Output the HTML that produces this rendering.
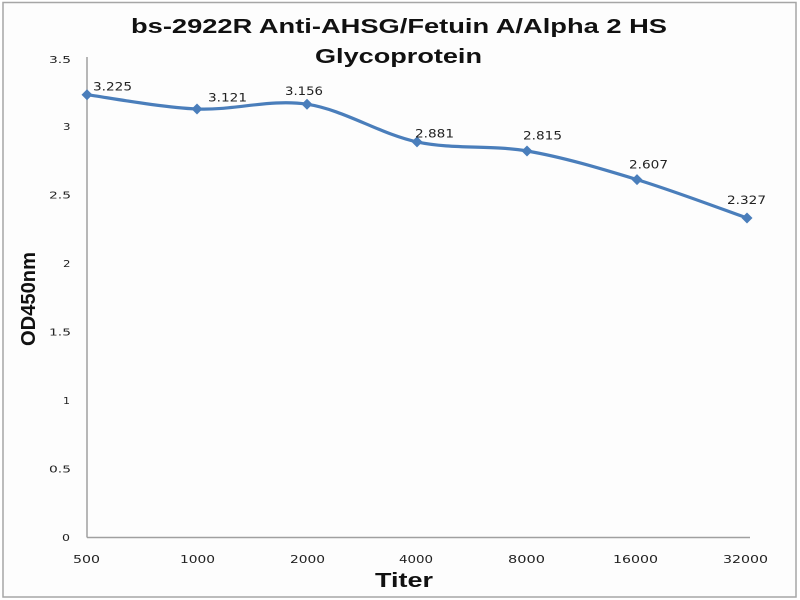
<!DOCTYPE html>
<html>
<head>
<meta charset="utf-8">
<style>
  html, body { margin:0; padding:0; background:#ffffff; }
  svg { display:block; }
</style>
</head>
<body>
<svg width="800" height="600" viewBox="0 0 800 600" xmlns="http://www.w3.org/2000/svg">
  <rect x="0" y="0" width="800" height="600" fill="#ffffff"/>
  <!-- outer frame -->
  <rect x="3" y="2.5" width="793" height="594.5" fill="#fdfdfd" stroke="#a6a6a6" stroke-width="1.5"/>

  <!-- title -->
  <g font-family="'Liberation Sans', sans-serif" font-weight="bold" fill="#111">
    <text x="131" y="33" font-size="20.5" textLength="536" lengthAdjust="spacingAndGlyphs">bs-2922R Anti-AHSG/Fetuin A/Alpha 2 HS</text>
    <text x="315" y="63" font-size="20.5" textLength="167" lengthAdjust="spacingAndGlyphs">Glycoprotein</text>
  </g>

  <!-- axes -->
  <line x1="87" y1="57" x2="87" y2="537.5" stroke="#a0a0a0" stroke-width="1.5"/>
  <line x1="87" y1="537.5" x2="750" y2="537.5" stroke="#a0a0a0" stroke-width="1.5"/>

  <!-- y tick labels -->
  <g font-family="'DejaVu Sans', 'Liberation Sans', sans-serif" font-size="9.5" fill="#222">
    <text x="49" y="63" textLength="22" lengthAdjust="spacingAndGlyphs">3.5</text>
    <text x="63" y="130" textLength="7.5" lengthAdjust="spacingAndGlyphs">3</text>
    <text x="49" y="198.5" textLength="22" lengthAdjust="spacingAndGlyphs">2.5</text>
    <text x="63" y="267" textLength="7.5" lengthAdjust="spacingAndGlyphs">2</text>
    <text x="49" y="335.5" textLength="22" lengthAdjust="spacingAndGlyphs">1.5</text>
    <text x="63" y="404" textLength="7" lengthAdjust="spacingAndGlyphs">1</text>
    <text x="49" y="472.5" textLength="22" lengthAdjust="spacingAndGlyphs">0.5</text>
    <text x="62" y="541" textLength="8" lengthAdjust="spacingAndGlyphs">0</text>
  </g>

  <!-- x tick labels -->
  <g font-family="'DejaVu Sans', 'Liberation Sans', sans-serif" font-size="10.5" fill="#222">
    <text x="73" y="563" textLength="27" lengthAdjust="spacingAndGlyphs">500</text>
    <text x="180" y="563" textLength="35" lengthAdjust="spacingAndGlyphs">1000</text>
    <text x="290" y="563" textLength="35" lengthAdjust="spacingAndGlyphs">2000</text>
    <text x="399" y="563" textLength="34" lengthAdjust="spacingAndGlyphs">4000</text>
    <text x="508" y="563" textLength="37" lengthAdjust="spacingAndGlyphs">8000</text>
    <text x="613" y="563" textLength="45" lengthAdjust="spacingAndGlyphs">16000</text>
    <text x="723" y="563" textLength="45" lengthAdjust="spacingAndGlyphs">32000</text>
  </g>

  <!-- axis titles -->
  <text x="375" y="587" font-family="'Liberation Sans', sans-serif" font-weight="bold" font-size="20.5" fill="#111" textLength="58" lengthAdjust="spacingAndGlyphs">Titer</text>
  <text transform="translate(35,346) rotate(-90)" x="0" y="0" font-family="'Liberation Sans', sans-serif" font-weight="bold" font-size="20.5" fill="#111" textLength="94" lengthAdjust="spacingAndGlyphs">OD450nm</text>

  <!-- series line -->
  <path d="M87,94.7 C105.3,97.1 160.3,107.4 197,109 C233.7,110.6 270.3,98.7 307,104.2 C343.7,109.7 380.3,134.1 417,141.9 C453.7,149.7 490.3,144.7 527,151 C563.7,157.3 600.3,168.4 637,179.6 C673.7,190.8 728.7,211.6 747,218"
        fill="none" stroke="#4a7ebb" stroke-width="3.2" stroke-linejoin="round" stroke-linecap="round"/>

  <!-- markers -->
  <g fill="#4a7ebb">
    <polygon points="87,89.2 92.5,94.7 87,100.2 81.5,94.7"/>
    <polygon points="197,103.5 202.5,109 197,114.5 191.5,109"/>
    <polygon points="307,98.7 312.5,104.2 307,109.7 301.5,104.2"/>
    <polygon points="417,136.4 422.5,141.9 417,147.4 411.5,141.9"/>
    <polygon points="527,145.5 532.5,151 527,156.5 521.5,151"/>
    <polygon points="637,174.1 642.5,179.6 637,185.1 631.5,179.6"/>
    <polygon points="747,212.5 752.5,218 747,223.5 741.5,218"/>
  </g>

  <!-- data labels -->
  <g font-family="'DejaVu Sans', 'Liberation Sans', sans-serif" font-size="11.5" fill="#222">
    <text x="93" y="90.7" textLength="39" lengthAdjust="spacingAndGlyphs">3.225</text>
    <text x="208" y="101.7" textLength="39" lengthAdjust="spacingAndGlyphs">3.121</text>
    <text x="285" y="95" textLength="38" lengthAdjust="spacingAndGlyphs">3.156</text>
    <text x="415" y="137.3" textLength="39" lengthAdjust="spacingAndGlyphs">2.881</text>
    <text x="523" y="139.3" textLength="39" lengthAdjust="spacingAndGlyphs">2.815</text>
    <text x="629" y="168.3" textLength="39" lengthAdjust="spacingAndGlyphs">2.607</text>
    <text x="727" y="204" textLength="39" lengthAdjust="spacingAndGlyphs">2.327</text>
  </g>
</svg>
</body>
</html>
